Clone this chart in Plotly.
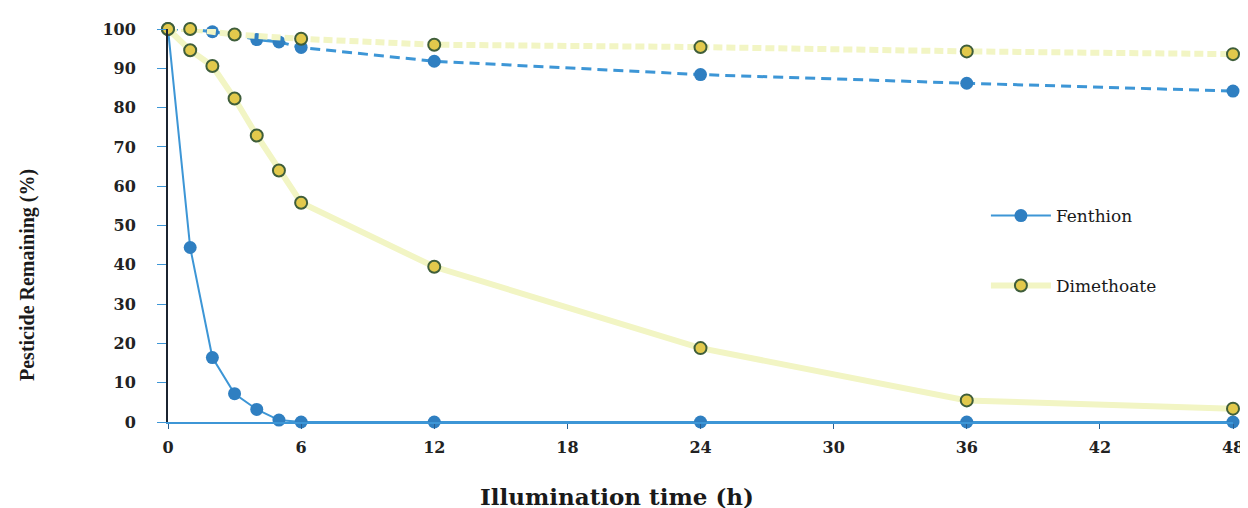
import plotly.graph_objects as go

hours = [0, 1, 2, 3, 4, 5, 6, 12, 24, 36, 48]
fenthion = [100, 44.4, 16.4, 7.2, 3.2, 0.5, 0, 0, 0, 0, 0]
fenthion_dark = [100, 100, 99.3, 98.6, 97.3, 96.7, 95.3, 91.8, 88.4, 86.2, 84.2]
dimethoate = [100, 94.6, 90.6, 82.3, 72.9, 64, 55.8, 39.5, 18.8, 5.5, 3.4]
dim_hours_dark = [0, 1, 3, 6, 12, 24, 36, 48]
dimethoate_dark = [100, 100, 98.6, 97.5, 96, 95.4, 94.3, 93.6]

x_ticks = [0, 6, 12, 18, 24, 30, 36, 42, 48]
y_ticks = [0, 10, 20, 30, 40, 50, 60, 70, 80, 90, 100]

BLUE = "#2f7fc1"
LBLUE = "#3d96d6"
YEL_LINE = "#f2f5c4"
YEL_FILL = "#e2c94c"
YEL_EDGE = "#3f5e3a"
FONT = "DejaVu Serif"
TFONT = "Liberation Serif"

fig = go.Figure()

fig.add_trace(go.Scatter(
    x=hours, y=fenthion, mode="lines+markers", name="Fenthion", legend="legend",
    line=dict(color=LBLUE, width=2),
    marker=dict(size=13, color=BLUE),
))
fig.add_trace(go.Scatter(
    x=hours, y=fenthion_dark, mode="lines+markers", showlegend=False,
    line=dict(color=LBLUE, width=3, dash="10px,6px"),
    marker=dict(size=13, color=BLUE),
))
fig.add_trace(go.Scatter(
    x=dim_hours_dark, y=dimethoate_dark, mode="lines+markers", showlegend=False,
    line=dict(color=YEL_LINE, width=6, dash="9px,4px"),
    marker=dict(size=12, color=YEL_FILL, line=dict(color=YEL_EDGE, width=2)),
))
fig.add_trace(go.Scatter(
    x=hours, y=dimethoate, mode="lines+markers", name="Dimethoate", legend="legend2",
    line=dict(color=YEL_LINE, width=6),
    marker=dict(size=12, color=YEL_FILL, line=dict(color=YEL_EDGE, width=2)),
))

leg_common = dict(xanchor="left", yanchor="middle", itemwidth=60,
                  font=dict(family=FONT, size=17, color="#1a1a1a"),
                  bgcolor="rgba(0,0,0,0)")

fig.update_layout(
    width=1248, height=508,
    margin=dict(l=160, r=23, t=21, b=94),
    paper_bgcolor="white", plot_bgcolor="white",
    font=dict(family=FONT, size=15, color="#1a1a1a"),
    legend=dict(x=0.768, y=(421 - 215) / 393, **leg_common),
    legend2=dict(x=0.768, y=(421 - 285) / 393, **leg_common),
    xaxis=dict(
        range=[0, 48], tickvals=x_ticks, ticks="outside", ticklen=5,
        tickcolor="#2a5f90", showgrid=False, zeroline=False,
        showline=True, linecolor=LBLUE, linewidth=2,
        tickfont=dict(family=FONT, size=16, color="#222", weight="bold"),
        ticklabelstandoff=5,
        automargin=False,
    ),
    yaxis=dict(
        range=[0, 100], tickvals=y_ticks, ticks="outside", ticklen=9,
        tickcolor=LBLUE, showgrid=False, zeroline=False,
        showline=True, linecolor="#1b2430", linewidth=2,
        tickfont=dict(family=FONT, size=16, color="#222", weight="bold"),
        ticklabelstandoff=18,
        automargin=False,
    ),
    annotations=[
        dict(text="<b>Illumination time (h)</b>", xref="paper", yref="paper",
             x=(616 - 167) / 1065, y=-(495 - 421) / 393, xanchor="center", yanchor="middle",
             showarrow=False, font=dict(family=FONT, size=23, color="#1a1a1a")),
        dict(text="<b>Pesticide Remaining (%)</b>", xref="paper", yref="paper",
             x=-(167 - 26) / 1065, y=(421 - 274) / 393, xanchor="center", yanchor="middle",
             textangle=-90, showarrow=False,
             font=dict(family=TFONT, size=20, color="#1a1a1a")),
    ],
)
fig.update_traces(cliponaxis=False)
fig.write_html("out.html")
